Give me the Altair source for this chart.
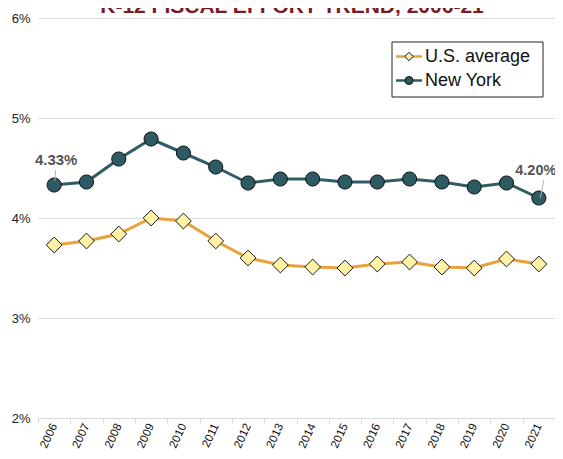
import altair as alt
import pandas as pd

title_text = "K-12 FISCAL EFFORT TREND, 2006-21"
years = [str(y) for y in range(2006, 2022)]
us_avg = [3.73, 3.77, 3.84, 4.00, 3.97, 3.77, 3.60, 3.53, 3.51, 3.50, 3.54, 3.56, 3.51, 3.50, 3.59, 3.54]
new_york = [4.33, 4.36, 4.59, 4.79, 4.65, 4.51, 4.35, 4.39, 4.39, 4.36, 4.36, 4.39, 4.36, 4.31, 4.35, 4.20]
series_names = ["U.S. average", "New York"]
y_ticks = [2, 3, 4, 5, 6]
ann_years = ["2006", "2021"]
ann_labels = ["4.33%", "4.20%"]

US_LINE = "#E9A23B"
US_FILL = "#FFF1A6"
NY_LINE = "#2F5C66"
NY_FILL = "#2E5A64"

us_df = pd.DataFrame({"year": years, "value": us_avg, "series": series_names[0]})
ny_df = pd.DataFrame({"year": years, "value": new_york, "series": series_names[1]})
ann_df = pd.DataFrame({
    "year": ann_years,
    "value": [new_york[years.index(y)] for y in ann_years],
    "label": ann_labels,
})

x_enc = alt.X(
    "year:O",
    scale=alt.Scale(type="band", domain=years, paddingInner=0, paddingOuter=0),
    axis=alt.Axis(
        title=None, grid=False, tickBand="extent", ticks=True, tickSize=5,
        tickColor="#d9d9d9", domainColor="#d9d9d9", labelAngle=-65,
        labelAlign="right", labelBaseline="middle", labelFontSize=11.5,
        labelColor="#111111", labelPadding=1,
    ),
)
y_enc = alt.Y(
    "value:Q",
    scale=alt.Scale(domain=[2, 6], nice=False, zero=False),
    axis=alt.Axis(
        title=None, values=y_ticks, labelExpr="datum.value + '%'", grid=True,
        gridColor="#dedede", domain=False, ticks=False, labelPadding=8,
        labelFontSize=13, labelColor="#222222",
    ),
)

us_line = alt.Chart(us_df).mark_line(color=US_LINE, strokeWidth=3).encode(x=x_enc, y=y_enc)
ny_line = alt.Chart(ny_df).mark_line(color=NY_LINE, strokeWidth=3).encode(x=x_enc, y=y_enc)
us_pts = alt.Chart(us_df).mark_point(
    shape="diamond", size=250, filled=True, fill=US_FILL, stroke="#1a1a1a",
    strokeWidth=1, opacity=1,
).encode(x=x_enc, y=y_enc)
ny_pts = alt.Chart(ny_df).mark_point(
    shape="circle", size=200, filled=True, fill=NY_FILL, stroke="#111111",
    strokeWidth=1, opacity=1,
).encode(x=x_enc, y=y_enc)

ann0 = ann_df.iloc[[0]]
ann1 = ann_df.iloc[[1]]
lead0 = alt.Chart(ann0).mark_rule(
    color="#b5b5b5", strokeWidth=1, xOffset=0.7, yOffset=-4, x2Offset=1.4, y2Offset=-15,
).encode(x=x_enc, y=y_enc, x2="year:O", y2="value:Q")
lead1 = alt.Chart(ann1).mark_rule(
    color="#b5b5b5", strokeWidth=1, xOffset=1.5, yOffset=0, x2Offset=5, y2Offset=-18,
).encode(x=x_enc, y=y_enc, x2="year:O", y2="value:Q")
txt0 = alt.Chart(ann0).mark_text(
    fontWeight="bold", fontSize=15, color="#555555", dx=2, dy=-25,
).encode(x=x_enc, y=y_enc, text="label:N")
txt1 = alt.Chart(ann1).mark_text(
    fontWeight="bold", fontSize=14.5, color="#555555", dx=-3, dy=-27,
).encode(x=x_enc, y=y_enc, text="label:N")

one = pd.DataFrame({"k": [0]})
leg_names = pd.DataFrame({"name": series_names})
leg_box = alt.Chart(one).mark_rect(fill="white", stroke="#222222", strokeWidth=1).encode(
    x=alt.value(354), x2=alt.value(505), y=alt.value(24), y2=alt.value(79)
)
row_y = [38.5, 62.5]
leg_layers = [leg_box]
for i, (lc, fc, shp, sz) in enumerate([(US_LINE, US_FILL, "diamond", 70), (NY_LINE, NY_FILL, "circle", 64)]):
    leg_layers.append(
        alt.Chart(one).mark_rule(color=lc, strokeWidth=2.5).encode(
            x=alt.value(358), x2=alt.value(384), y=alt.value(row_y[i])
        )
    )
    leg_layers.append(
        alt.Chart(one).mark_point(
            shape=shp, size=sz, filled=True, fill=fc, stroke="#111111", strokeWidth=1, opacity=1
        ).encode(x=alt.value(371), y=alt.value(row_y[i]))
    )
    leg_layers.append(
        alt.Chart(leg_names.iloc[[i]]).mark_text(
            align="left", baseline="middle", fontSize=18, color="#111111"
        ).encode(x=alt.value(387), y=alt.value(row_y[i]), text="name:N")
    )

title = alt.Chart(one).mark_text(
    fontSize=21, fontWeight="bold", color="#7A1B1F", align="center", baseline="alphabetic"
).encode(x=alt.value(254), y=alt.value(-5), text=alt.value(title_text))

chart = alt.layer(
    us_line, ny_line, us_pts, ny_pts, lead0, lead1, txt0, txt1, *leg_layers, title
).properties(
    width=517, height=400,
    autosize=alt.AutoSizeParams(type="none"),
    padding={"left": 30, "top": 10, "right": 0, "bottom": 33},
).configure(font="Liberation Sans").configure_view(stroke=None)

chart.save("out.html", embed_options={"renderer": "svg", "actions": False})
